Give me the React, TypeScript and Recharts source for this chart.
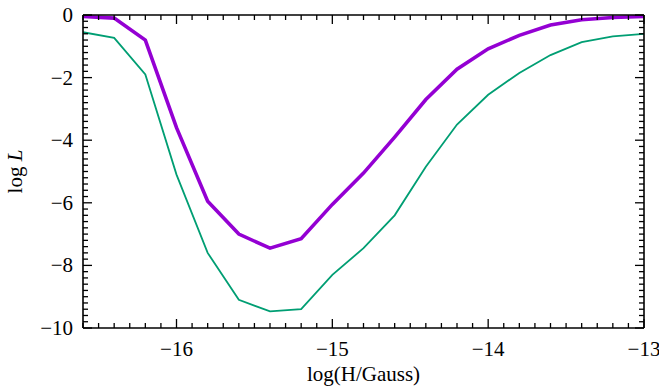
import type { ReactElement } from 'react'
import { LineChart, Line, XAxis, YAxis } from 'recharts'

// log(H/Gauss) sample points
const logH = [-16.6, -16.4, -16.2, -16.0, -15.8, -15.6, -15.4, -15.2, -15.0, -14.8, -14.6, -14.4, -14.2, -14.0, -13.8, -13.6, -13.4, -13.2, -13.0]
// thick purple curve
const purpleL = [-0.05, -0.1, -0.8, -3.6, -5.95, -7.0, -7.45, -7.15, -6.05, -5.05, -3.9, -2.7, -1.73, -1.08, -0.65, -0.32, -0.15, -0.08, -0.05]
// thin green curve
const greenL = [-0.55, -0.73, -1.9, -5.1, -7.6, -9.1, -9.47, -9.4, -8.3, -7.45, -6.4, -4.85, -3.5, -2.55, -1.85, -1.28, -0.87, -0.68, -0.6]

const xDomain: [number, number] = [-16.6, -13]
const yDomain: [number, number] = [-10, 0]

// major ticks are labelled, minor ticks every 0.1 (x) and 0.2 (y)
const xTicks: number[] = []
for (let i = 0; i <= 36; i++) xTicks.push(Number((-16.6 + i * 0.1).toFixed(1)))
const yTicks: number[] = []
for (let i = 0; i <= 50; i++) yTicks.push(Number((-10 + i * 0.2).toFixed(1)))

const data = logH.map((x, i) => ({ x, purple: purpleL[i], green: greenL[i] }))

const W = 659
const H = 387
const M_TOP = 14
const M_RIGHT = 14
const PLOT_TOP = M_TOP + 1
const PLOT_RIGHT = W - M_RIGHT - 1

const FONT = '"Liberation Serif", "DejaVu Serif", serif'
const FS = 21
const fmt = (v: number) => String(v).replace('-', '\u2212')
const isXMajor = (v: number) => Math.abs(v - Math.round(v)) < 1e-6
const isYMajor = (v: number) => Math.abs(v / 2 - Math.round(v / 2)) < 1e-6
const frame = { stroke: '#000', strokeWidth: 1.6 }
const TICK_W = 1.3

// ticks point inward on all four sides
function BottomTick({ x, y, payload }: any): ReactElement {
  const major = isXMajor(payload.value)
  const len = major ? 9 : 5
  return (
    <g>
      <line x1={x} x2={x} y1={y} y2={y - len} stroke="#000" strokeWidth={TICK_W} />
      <line x1={x} x2={x} y1={PLOT_TOP} y2={PLOT_TOP + len} stroke="#000" strokeWidth={TICK_W} />
      {major && (
        <text x={x} y={y + 28} textAnchor="middle" fill="#000" fontSize={FS} fontFamily={FONT}>
          {fmt(payload.value)}
        </text>
      )}
    </g>
  )
}

function LeftTick({ x, y, payload }: any): ReactElement {
  const major = isYMajor(payload.value)
  const len = major ? 9 : 5
  return (
    <g>
      <line x1={x} x2={x + len} y1={y} y2={y} stroke="#000" strokeWidth={TICK_W} />
      <line x1={PLOT_RIGHT} x2={PLOT_RIGHT - len} y1={y} y2={y} stroke="#000" strokeWidth={TICK_W} />
      {major && (
        <text x={x - 10} y={y + 7} textAnchor="end" fill="#000" fontSize={FS} fontFamily={FONT}>
          {fmt(payload.value)}
        </text>
      )}
    </g>
  )
}

function XLabel({ viewBox }: any): ReactElement {
  return (
    <text x={viewBox.x + viewBox.width / 2} y={381} textAnchor="middle" fill="#000" fontSize={FS} fontFamily={FONT}>
      log(H/Gauss)
    </text>
  )
}

function YLabel({ viewBox }: any): ReactElement {
  const x = 22
  const y = viewBox.y + viewBox.height / 2
  return (
    <text x={x} y={y} transform={`rotate(-90, ${x}, ${y})`} textAnchor="middle" fill="#000" fontSize={FS} fontFamily={FONT}>
      log <tspan fontStyle="italic">L</tspan>
    </text>
  )
}

export default function App(): ReactElement {
  return (
    <div style={{ position: 'absolute', left: 0, top: 0, background: '#fff' }}>
      <LineChart width={W} height={H} data={data} margin={{ top: M_TOP, right: M_RIGHT, bottom: 0, left: 0 }}>
        <XAxis
          xAxisId="main"
          dataKey="x"
          type="number"
          domain={xDomain}
          ticks={xTicks}
          interval={0}
          allowDataOverflow
          height={59}
          tickLine={false}
          tickSize={0}
          tickMargin={0}
          axisLine={frame}
          tick={<BottomTick />}
          label={<XLabel />}
        />
        <XAxis xAxisId="top" orientation="top" type="number" domain={xDomain} allowDataOverflow height={1} tick={false} tickLine={false} axisLine={frame} />
        <YAxis
          yAxisId="main"
          type="number"
          domain={yDomain}
          ticks={yTicks}
          interval={0}
          allowDataOverflow
          width={83}
          tickLine={false}
          tickSize={0}
          tickMargin={0}
          axisLine={frame}
          tick={<LeftTick />}
          label={<YLabel />}
        />
        <YAxis yAxisId="right" orientation="right" type="number" domain={yDomain} allowDataOverflow width={1} tick={false} tickLine={false} axisLine={frame} />

        <Line xAxisId="main" yAxisId="main" type="linear" dataKey="green" stroke="#009e73" strokeWidth={1.8} dot={false} activeDot={false} isAnimationActive={false} />
        <Line xAxisId="main" yAxisId="main" type="linear" dataKey="purple" stroke="#9400d3" strokeWidth={3.6} dot={false} activeDot={false} isAnimationActive={false} />
      </LineChart>
    </div>
  )
}
